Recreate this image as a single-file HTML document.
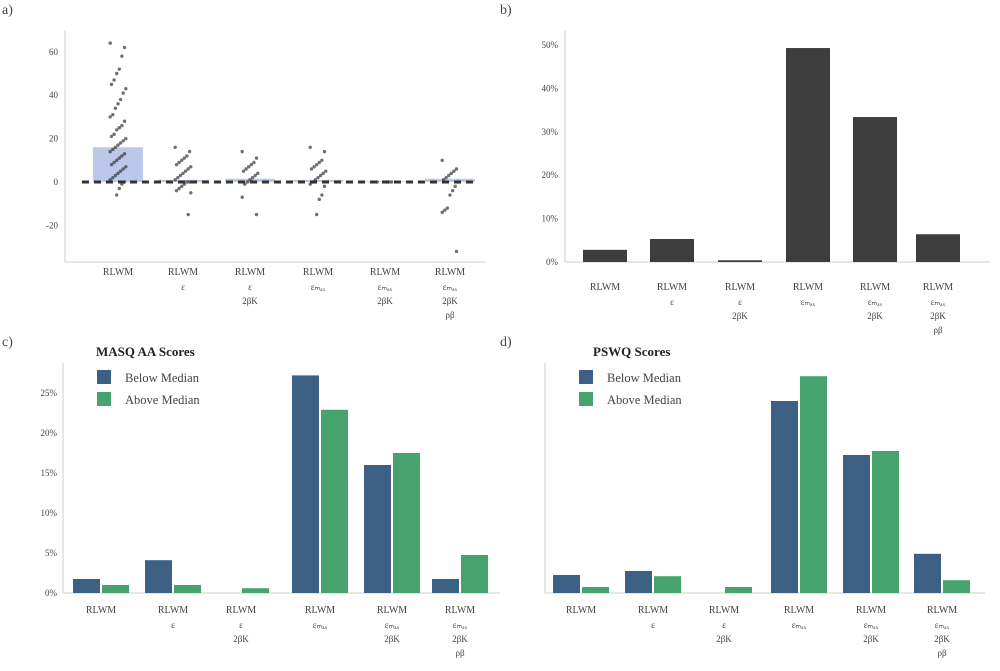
<!DOCTYPE html>
<html><head><meta charset="utf-8">
<style>
body{margin:0;background:#fff;width:1000px;height:666px;overflow:hidden;font-family:"Liberation Serif",serif}
svg text{font-family:"Liberation Serif",serif;fill:#444}
</style></head>
<body>
<svg id="fig" width="1000" height="666" viewBox="0 0 1000 666">
<text x="2" y="14" font-size="14" fill="#222">a)</text>
<text x="500" y="14" font-size="14" fill="#222">b)</text>
<text x="2" y="346" font-size="14" fill="#222">c)</text>
<text x="500" y="346" font-size="14" fill="#222">d)</text>
<text x="96" y="356" font-size="13" font-weight="bold" style="fill:#222">MASQ AA Scores</text>
<text x="593" y="356" font-size="13" font-weight="bold" style="fill:#222">PSWQ Scores</text>
</svg>
<script>
const categories=["RLWM","RLWM ε","RLWM ε 2βK","RLWM εfree","RLWM εfree 2βK","RLWM εfree 2βK ρ"];
const subLines=[[],["ε"],["ε","2βK"],["εₘₐₓ"],["εₘₐₓ","2βK"],["εₘₐₓ","2βK","ρβ"]];
// panel a
const aMeans=[16,1,1.5,1,0.3,1.5];
const aPoints=[
[64,62,58,52,50,47,45,43,41,38,36,34,31,30,28,26,25,24,22,21,20,19,18,17,16,15,14,13,12,11,10,9,8,7,6,5,4,3,2,1,0,-1,-3,-6],
[16,14,12,11,10,9,8,7,6,5,4,3,2,1,0,0,-1,-2,-3,-4,-5,-15],
[14,11,9,8,7,6,5,4,3,2,1,0,-1,-7,-15],
[16,14,10,9,8,7,6,5,4,3,2,1,0,-1,-2,-6,-8,-15],
[0,0,0,0],
[10,6,5,4,3,2,1,0,-2,-4,-6,-12,-13,-14,-32]];
const aTicks=[60,40,20,0,-20];
// panel b
const bValues=[2.8,5.3,0.4,49.3,33.4,6.4];
const bTicks=[0,10,20,30,40,50];
// panel c
const cBelow=[1.75,4.1,0,27.2,16,1.75];
const cAbove=[1,1,0.6,22.9,17.5,4.75];
const cTicks=[0,5,10,15,20,25];
// panel d
const dBelow=[2.25,2.75,0,24,17.25,4.9];
const dAbove=[0.75,2.1,0.75,27.1,17.75,1.6];

const svg=document.getElementById('fig');
const NS='http://www.w3.org/2000/svg';
function mk(tag,attrs,parent){const e=document.createElementNS(NS,tag);for(const k in attrs)e.setAttribute(k,attrs[k]);(parent||svg).appendChild(e);return e;}

function axes(x0,x1,yTop,yBot,name){
  let l=mk('line',{x1:x0,y1:yTop,x2:x0,y2:yBot,stroke:'#ddd','stroke-width':1.5});
  
  
  l=mk('line',{x1:x0,y1:yBot,x2:x1,y2:yBot,stroke:'#ddd','stroke-width':1.5});
  
  
}
function xLabels(centers,yStart,name){
  categories.forEach((c,i)=>{
    const t=mk('text',{x:centers[i],y:yStart,'font-size':10,'text-anchor':'middle'});
    t.textContent='RLWM';
    
    
    subLines[i].forEach((s,j)=>{
      const u=mk('text',{x:centers[i],y:yStart+15+j*14,'font-size':9,'text-anchor':'middle'});
      u.textContent=s;
      
      
    });
  });
}
function yLabels(ticks,yf,x,fmt,name){
  ticks.forEach(v=>{
    const t=mk('text',{x:x,y:yf(v)+3,'font-size':9,'text-anchor':'end'});
    t.textContent=fmt(v);
    
    
  });
}

// Panel a
(function(){
  const centers=[118,183,250,318,385,450];
  const y=v=>182-v*2.17;
  axes(65,485,30,262,'panel-a');
  yLabels(aTicks,y,58,v=>String(v),'panel-a');
  aMeans.forEach((m,i)=>{
    const r=mk('rect',{x:centers[i]-25,y:Math.min(y(m),y(0)),width:50,height:Math.abs(y(m)-y(0)),fill:'#8fa3dc','fill-opacity':0.6});
    
    
  });
  aPoints.forEach((pts,i)=>{
    pts.forEach((v,k)=>{
      const jx=((k*37)%13-6)*1.3;
      const c=mk('circle',{cx:centers[i]+jx,cy:y(v),r:1.7,fill:'#333','fill-opacity':0.7});
      
      
    });
  });
  const d=mk('line',{x1:82,y1:y(0),x2:478,y2:y(0),stroke:'#333','stroke-width':3,'stroke-dasharray':'7,5'});
  
  
  xLabels(centers,275,'panel-a');
})();

// Panel b
(function(){
  const centers=[605,672,740,808,875,938];
  const y=v=>262-v*4.34;
  axes(565,990,30,262,'panel-b');
  yLabels(bTicks,y,558,v=>v+'%','panel-b');
  bValues.forEach((v,i)=>{
    const r=mk('rect',{x:centers[i]-22,y:y(v),width:44,height:262-y(v),fill:'#3d3d3d'});
    
    
  });
  xLabels(centers,290,'panel-b');
})();

function grouped(x0,x1,centers,below,above,name,showTicks){
  const y=v=>593-v*8;
  axes(x0,x1,363,593,name);
  if(showTicks) yLabels(cTicks,y,x0-6,v=>v+'%',name);
  below.forEach((v,i)=>{
    const r=mk('rect',{x:centers[i]-28,y:y(v),width:27,height:593-y(v),fill:'#3c6184'});
    
    
  });
  above.forEach((v,i)=>{
    const r=mk('rect',{x:centers[i]+1,y:y(v),width:27,height:593-y(v),fill:'#46a36e'});
    
    
  });
  xLabels(centers,613,name);
  const lx=x0+34;
  [['Below Median','#3c6184',377],['Above Median','#46a36e',399]].forEach(([t,c,yy])=>{
    const s=mk('rect',{x:lx,y:yy-7,width:14,height:14,fill:c});
    
    
    const tx=mk('text',{x:lx+28,y:yy+5,'font-size':12.5});
    tx.textContent=t;
    
    
  });
}
grouped(63,500,[101,173,241,320,392,460],cBelow,cAbove,'panel-c',true);
grouped(545,985,[581,653,724,799,871,942],dBelow,dAbove,'panel-d',false);
</script>
</body></html>
